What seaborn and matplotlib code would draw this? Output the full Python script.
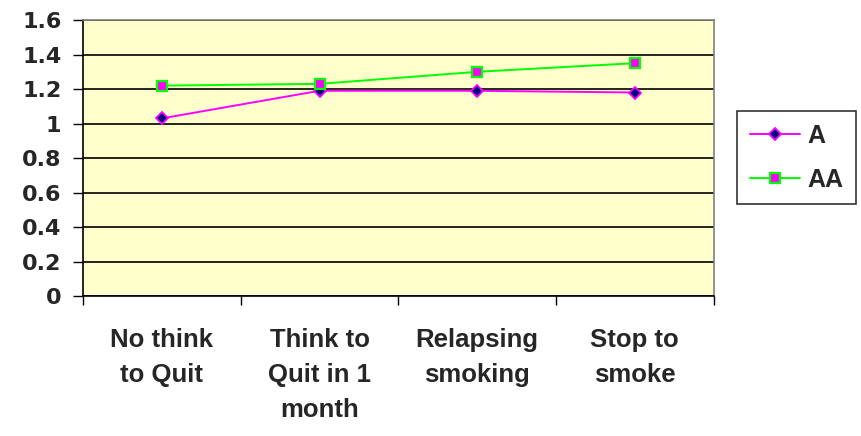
import pandas as pd
import numpy as np
import seaborn as sns
import matplotlib.pyplot as plt

# 데이터
categories = ['No think\nto Quit', 'Think to\nQuit in 1\nmonth', 'Relapsing\nsmoking', 'Stop to\nsmoke']
a_vals = [1.03, 1.19, 1.19, 1.18]
aa_vals = [1.22, 1.23, 1.30, 1.35]
yticks = [0, 0.2, 0.4, 0.6, 0.8, 1.0, 1.2, 1.4, 1.6]
ytick_labels = ['0', '0.2', '0.4', '0.6', '0.8', '1', '1.2', '1.4', '1.6']

df_a = pd.DataFrame({'cat': categories, 'val': a_vals})
df_aa = pd.DataFrame({'cat': categories, 'val': aa_vals})

sns.set_style('white')
plt.rcParams['font.family'] = ['Liberation Sans', 'DejaVu Sans']
plt.rcParams['font.weight'] = 'bold'

fig = plt.figure(figsize=(8.61, 4.36), dpi=100)
ax = fig.add_axes([0.0964, 0.321, 0.7325, 0.633])
ax.set_facecolor('#FFFFCC')

sns.lineplot(data=df_a, x='cat', y='val', ax=ax, color='#FF00FF', lw=1.4,
             marker='D', markersize=6.5, markerfacecolor='#000080',
             markeredgecolor='#FF00FF', markeredgewidth=1.3, label='A')
sns.lineplot(data=df_aa, x='cat', y='val', ax=ax, color='#00FF00', lw=1.4,
             marker='s', markersize=7.5, markerfacecolor='#FF00FF',
             markeredgecolor='#00FF00', markeredgewidth=1.6, label='AA')

ax.set_ylim(0, 1.6)
ax.set_yticks(yticks)
ax.set_yticklabels(ytick_labels, family=['DejaVu Sans'], fontweight='bold', fontsize=16)
ax.set_xlim(-0.5, 3.5)
ax.set_xticks(range(4))
ax.set_xticklabels(categories, linespacing=1.57, fontweight='bold', fontsize=18.5)
ax.set_xticks(np.arange(-0.5, 3.6, 1), minor=True)
ax.tick_params(axis='x', which='major', length=0, pad=23, bottom=True)
ax.tick_params(axis='x', which='minor', length=6.5, width=1, direction='out',
               color='black', bottom=True)
ax.tick_params(axis='y', length=7.5, width=1, direction='out', color='black',
               pad=8, left=True)
ax.yaxis.grid(True, color='black', lw=1.2)
ax.set_axisbelow(True)
ax.set_xlabel('')
ax.set_ylabel('')
for s in ['left', 'bottom']:
    ax.spines[s].set_color('black')
    ax.spines[s].set_linewidth(1.2)
for s in ['top', 'right']:
    ax.spines[s].set_color('#808080')
    ax.spines[s].set_linewidth(1.2)

leg = ax.legend(loc='upper left', bbox_to_anchor=(0.856, 0.745), bbox_transform=fig.transFigure,
                frameon=True, fancybox=False, edgecolor='black',
                prop={'weight': 'bold', 'size': 18}, handlelength=2.0, borderpad=0.5,
                labelspacing=0.8, handletextpad=0.3, borderaxespad=0)
leg.get_frame().set_linewidth(1.2)

fig.savefig('out.png', dpi=100)
